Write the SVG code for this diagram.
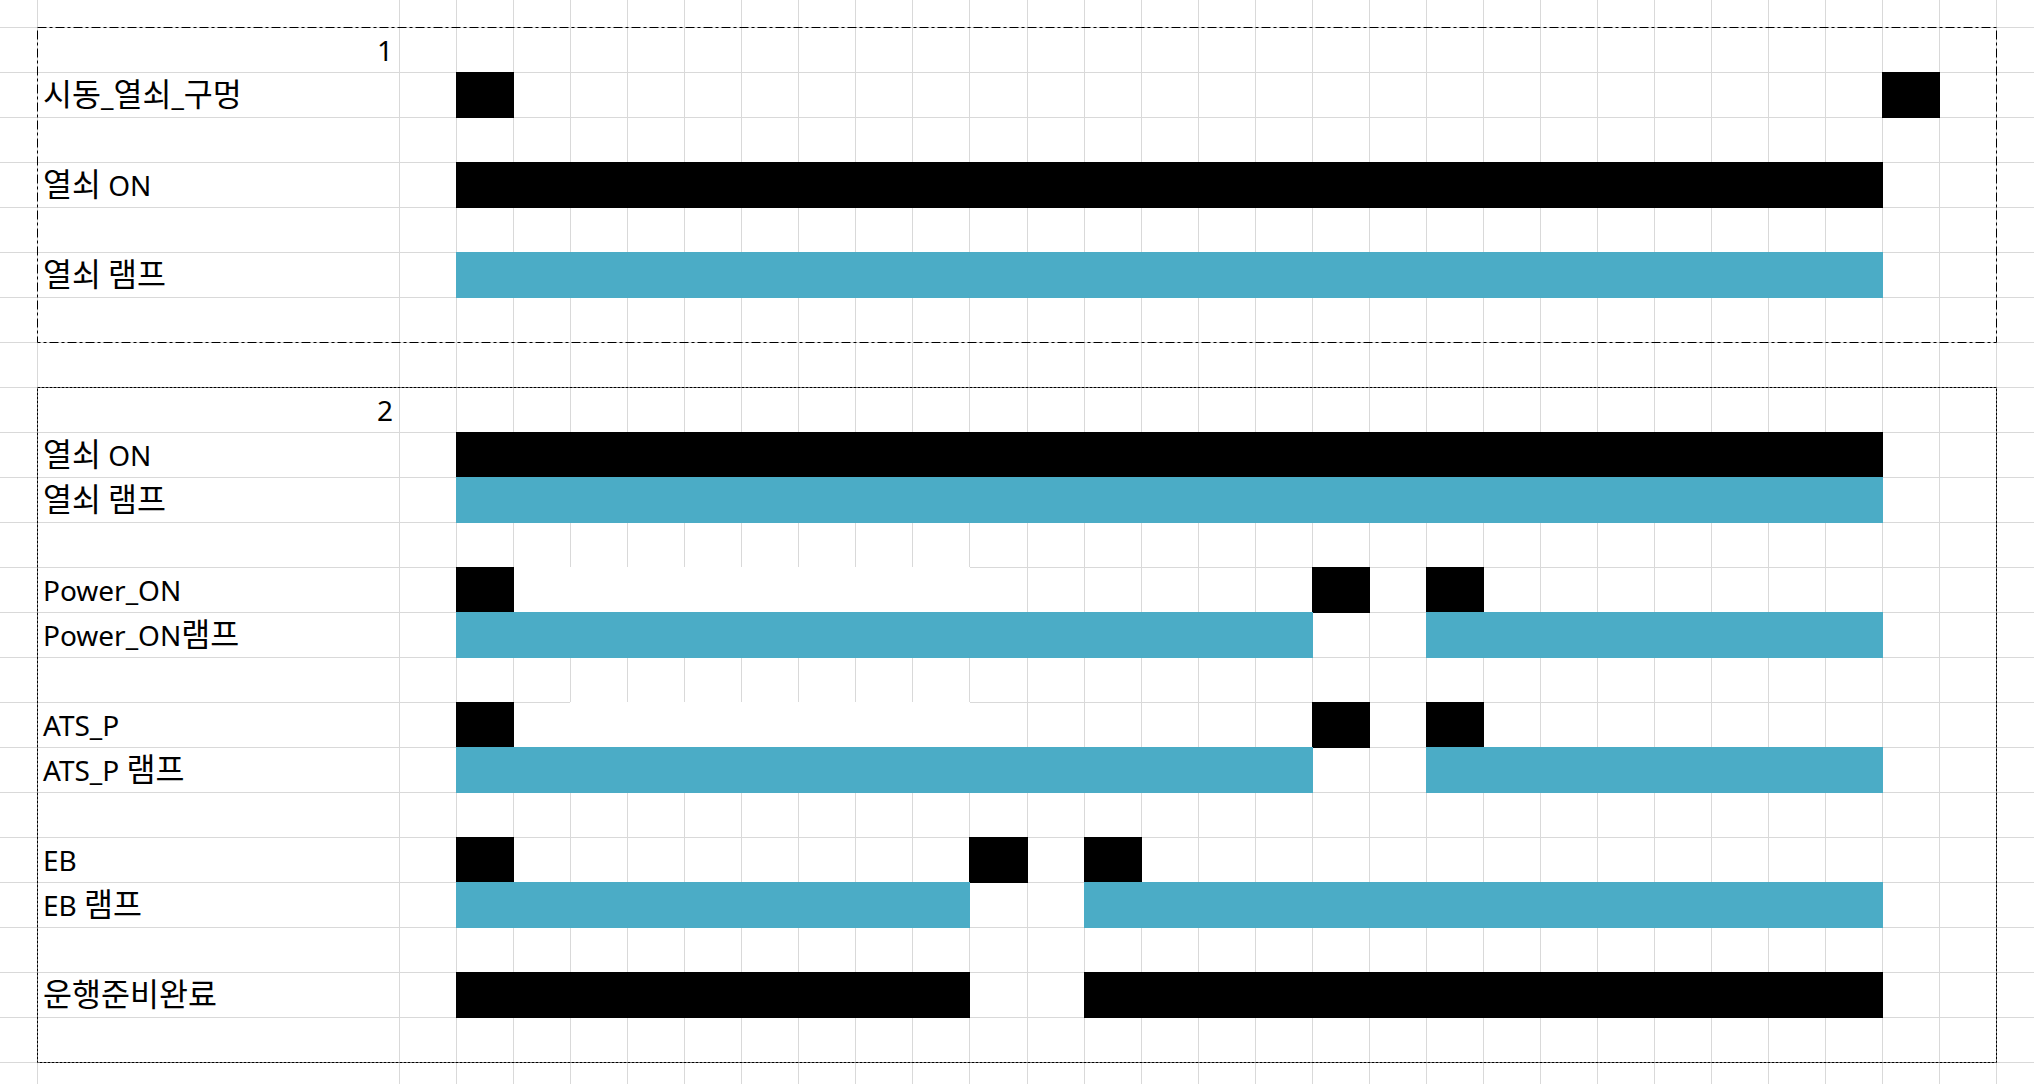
<svg xmlns="http://www.w3.org/2000/svg" width="2034" height="1084" viewBox="0 0 2034 1084">
<style>
.grid{stroke:#d9d9d9;stroke-width:1;fill:none}
.lbl{font-family:"Noto Sans","Noto Sans CJK KR",sans-serif;font-size:28px;fill:#000}
.ko{font-family:"Noto Sans CJK KR",sans-serif;font-size:31.5px}
.num{font-family:"Noto Sans","Noto Sans CJK KR",sans-serif;font-size:28px;fill:#000;text-anchor:end}
.on{fill:#000}
.lamp{fill:#4BACC6}
.blank{fill:#fff}
.box1{fill:none;stroke:#000;stroke-width:1;stroke-dasharray:9 3 3 3}
.box2{fill:none;stroke:#000;stroke-width:1;stroke-dasharray:3 1}
</style>
<rect width="2034" height="1084" fill="#fff"/>
<g id="grid">
<path class="grid" d="M0 27.5H2034M0 72.5H2034M0 117.5H2034M0 162.5H2034M0 207.5H2034M0 252.5H2034M0 297.5H2034M0 342.5H2034M0 387.5H2034M0 432.5H2034M0 477.5H2034M0 522.5H2034M0 567.5H2034M0 612.5H2034M0 657.5H2034M0 702.5H2034M0 747.5H2034M0 792.5H2034M0 837.5H2034M0 882.5H2034M0 927.5H2034M0 972.5H2034M0 1017.5H2034M0 1062.5H2034"/>
<path class="grid" d="M37.5 0V1084M399.5 0V1084M456.5 0V1084M513.5 0V1084M570.5 0V1084M627.5 0V1084M684.5 0V1084M741.5 0V1084M798.5 0V1084M855.5 0V1084M912.5 0V1084M969.5 0V1084M1027.5 0V1084M1084.5 0V1084M1141.5 0V1084M1198.5 0V1084M1255.5 0V1084M1312.5 0V1084M1369.5 0V1084M1426.5 0V1084M1483.5 0V1084M1540.5 0V1084M1597.5 0V1084M1654.5 0V1084M1711.5 0V1084M1768.5 0V1084M1825.5 0V1084M1882.5 0V1084M1939.5 0V1084M1996.5 0V1084"/>
</g>
<g id="section1">
<text class="num" x="393" y="61">1</text>
<g id="s1-key-hole">
<text class="lbl" x="43" y="106"><tspan class="ko">시동</tspan>_<tspan class="ko">열쇠</tspan>_<tspan class="ko">구멍</tspan></text>
<rect class="on" x="456" y="72" width="58" height="46"/>
<rect class="on" x="1882" y="72" width="58" height="46"/>
</g>
<g id="s1-key-on">
<text class="lbl" x="43" y="196"><tspan class="ko">열쇠</tspan> ON</text>
<rect class="on" x="456" y="162" width="1427" height="46"/>
</g>
<g id="s1-key-lamp">
<text class="lbl" x="43" y="286"><tspan class="ko">열쇠 램프</tspan></text>
<rect class="lamp" x="456" y="252" width="1427" height="46"/>
</g>
</g>
<g id="section2">
<text class="num" x="393" y="421">2</text>
<g id="s2-key-on">
<text class="lbl" x="43" y="466"><tspan class="ko">열쇠</tspan> ON</text>
<rect class="on" x="456" y="432" width="1427" height="46"/>
</g>
<g id="s2-key-lamp">
<text class="lbl" x="43" y="511"><tspan class="ko">열쇠 램프</tspan></text>
<rect class="lamp" x="456" y="477" width="1427" height="46"/>
</g>
<g id="s2-power-on">
<rect class="blank" x="514" y="567" width="456" height="45"/>
<text class="lbl" x="43" y="601">Power_ON</text>
<rect class="on" x="456" y="567" width="58" height="46"/>
<rect class="on" x="1312" y="567" width="58" height="46"/>
<rect class="on" x="1426" y="567" width="58" height="46"/>
</g>
<g id="s2-power-on-lamp">
<text class="lbl" x="43" y="646">Power_ON<tspan class="ko">램프</tspan></text>
<rect class="lamp" x="456" y="612" width="857" height="46"/>
<rect class="lamp" x="1426" y="612" width="457" height="46"/>
</g>
<g id="s2-ats-p">
<rect class="blank" x="570" y="702" width="400" height="45"/>
<text class="lbl" x="43" y="736">ATS_P</text>
<rect class="on" x="456" y="702" width="58" height="46"/>
<rect class="on" x="1312" y="702" width="58" height="46"/>
<rect class="on" x="1426" y="702" width="58" height="46"/>
</g>
<g id="s2-ats-p-lamp">
<text class="lbl" x="43" y="781">ATS_P <tspan class="ko">램프</tspan></text>
<rect class="lamp" x="456" y="747" width="857" height="46"/>
<rect class="lamp" x="1426" y="747" width="457" height="46"/>
</g>
<g id="s2-eb">
<text class="lbl" x="43" y="871">EB</text>
<rect class="on" x="456" y="837" width="58" height="46"/>
<rect class="on" x="969" y="837" width="59" height="46"/>
<rect class="on" x="1084" y="837" width="58" height="46"/>
</g>
<g id="s2-eb-lamp">
<text class="lbl" x="43" y="916">EB <tspan class="ko">램프</tspan></text>
<rect class="lamp" x="456" y="882" width="514" height="46"/>
<rect class="lamp" x="1084" y="882" width="799" height="46"/>
</g>
<g id="s2-ready">
<text class="lbl" x="43" y="1006"><tspan class="ko">운행준비완료</tspan></text>
<rect class="on" x="456" y="972" width="514" height="46"/>
<rect class="on" x="1084" y="972" width="799" height="46"/>
</g>
</g>
<g id="frames">
<rect class="box1" x="37.5" y="27.5" width="1959" height="315"/>
<rect class="box2" x="37.5" y="387.5" width="1959" height="675"/>
</g>
</svg>
